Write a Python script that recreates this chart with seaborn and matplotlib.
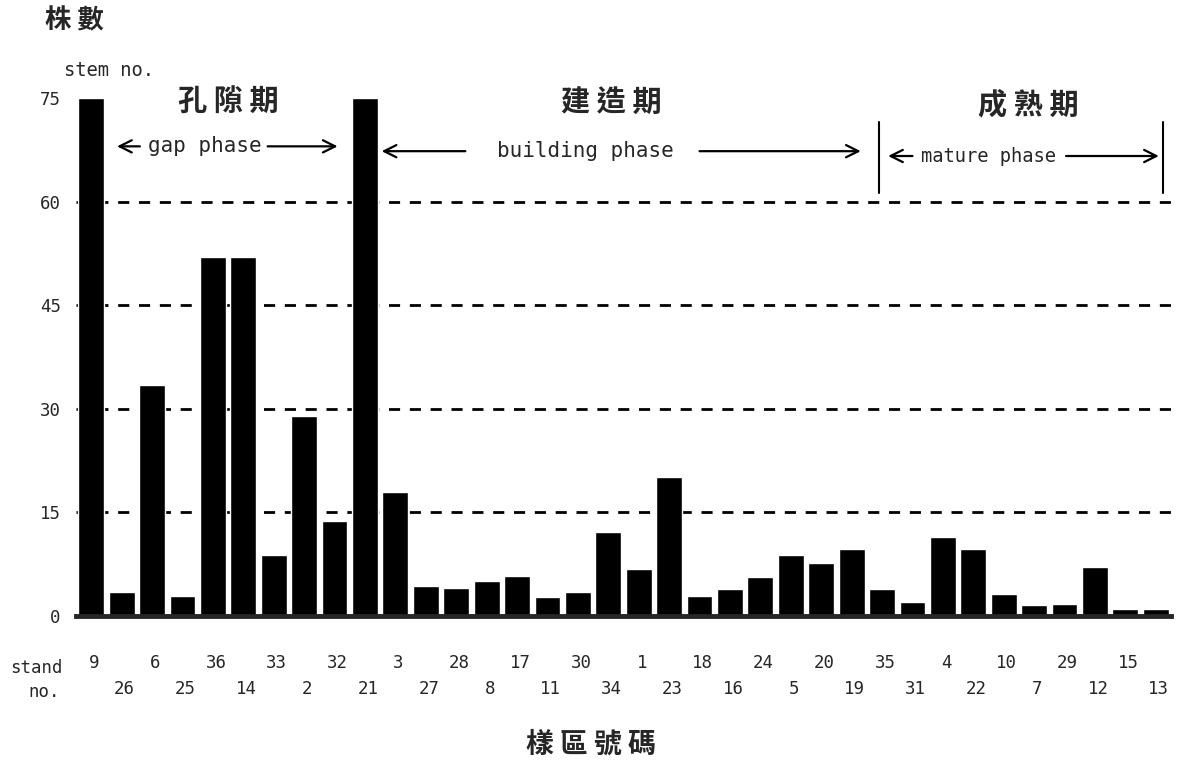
import numpy as np
import pandas as pd
import matplotlib
matplotlib.use("Agg")
import matplotlib.pyplot as plt
import matplotlib.transforms as mtransforms
import seaborn as sns

# stand numbers in plotted order and stem counts (bars at 75 run off the top)
stands = ["9", "26", "6", "25", "36", "14", "33", "2", "32", "21",
          "3", "27", "28", "8", "17", "11", "30", "34", "1", "23",
          "18", "16", "24", "5", "20", "19", "35", "31", "4", "22",
          "10", "7", "29", "12", "15", "13"]
stems = [75, 3.5, 33.5, 2.9, 52, 52, 8.9, 29, 13.7, 75,
         18, 4.4, 4.1, 5.0, 5.8, 2.7, 3.5, 12.2, 6.8, 20.1,
         2.9, 3.9, 5.7, 8.9, 7.7, 9.7, 3.9, 2.0, 11.4, 9.7,
         3.2, 1.6, 1.7, 7.1, 1.0, 1.0]
yticks = [0, 15, 30, 45, 60, 75]
grid_levels = [15, 30, 45, 60]

mono = "DejaVu Sans Mono"
cjk = ["Noto Sans CJK TC", "DejaVu Sans"]

sns.set_style("white")
plt.rcParams['font.family'] = [mono, "Noto Sans CJK TC"]

df = pd.DataFrame({"stand": stands, "stems": stems})

fig = plt.figure(figsize=(11.77, 7.7), dpi=100)
ax = fig.add_axes([76/1177, 154/770, 1095/1177, 518/770])

# dashed reference lines behind the bars
for lv in grid_levels:
    ax.axhline(lv, color="black", lw=2, ls=(0, (4, 3.5)), zorder=0)

sns.barplot(data=df, x="stand", y="stems", order=stands, color="black",
            width=0.85, saturation=1, ax=ax, zorder=2)

ax.set_ylim(0, 75)
ax.set_xlim(-0.5, len(stands) - 0.5)
ax.set_yticks(yticks)
ax.set_yticklabels([str(t) for t in yticks], fontsize=12.5, family=mono)
ax.tick_params(axis="y", length=7, width=1.5, pad=4)
ax.set_xticks([])
ax.set_xlabel("")
ax.set_ylabel("")
for s in ["top", "right", "left"]:
    ax.spines[s].set_visible(False)
ax.spines["bottom"].set_linewidth(3.5)
ax.spines["bottom"].set_zorder(3)

# stand numbers in two staggered rows
trans = mtransforms.blended_transform_factory(ax.transData, fig.transFigure)
for i, s in enumerate(stands):
    yy = 1 - 663/770 if i % 2 == 0 else 1 - 689/770
    ax.text(i + 0.1, yy, s, transform=trans, ha="center", va="center",
            fontsize=12.5, family=mono)
fig.text(10/1177, 1 - 668/770, "stand", ha="left", va="center", fontsize=12.5, family=mono)
fig.text(60/1177, 1 - 692/770, "no.", ha="right", va="center", fontsize=12.5, family=mono)

# axis titles
fig.text(45/1177, 1 - 21/770, "株 數", ha="left", va="center", fontsize=19,
         fontweight="bold", family=cjk)
fig.text(64/1177, 1 - 70/770, "stem no.", ha="left", va="center", fontsize=13.5, family=mono)
fig.text(591/1177, 1 - 745/770, "樣 區 號 碼", ha="center", va="center", fontsize=20,
         fontweight="bold", family=cjk)

# phase headings
ax.text(4.5, 74.5, "孔 隙 期", ha="center", va="center", fontsize=21,
        fontweight="bold", family=cjk, clip_on=False)
ax.text(17.1, 74.5, "建 造 期", ha="center", va="center", fontsize=21,
        fontweight="bold", family=cjk, clip_on=False)
ax.text(30.8, 74.0, "成 熟 期", ha="center", va="center", fontsize=21,
        fontweight="bold", family=cjk, clip_on=False)

def phase(label, xc, y, left_tip, left_start, right_start, right_tip, size=15):
    ax.text(xc, y, label, ha="center", va="center", fontsize=size, family=mono,
            bbox=dict(fc="white", ec="none", pad=0.5))
    ap = dict(arrowstyle="->", lw=1.6, color="black", mutation_scale=22,
              shrinkA=0, shrinkB=0)
    ax.annotate("", xy=(left_tip, y), xytext=(left_start, y), arrowprops=ap)
    ax.annotate("", xy=(right_tip, y), xytext=(right_start, y), arrowprops=ap)

phase("gap phase", 3.75, 68.0, 0.85, 1.6, 5.8, 8.1)
phase("building phase", 16.25, 67.3, 9.55, 12.3, 20.0, 25.3)
phase("mature phase", 29.5, 66.6, 26.2, 27.0, 32.05, 35.1, size=13.5)

# boundaries of the mature phase
for xv in [25.9, 35.25]:
    ax.plot([xv, xv], [61.3, 71.5], color="black", lw=1.5, clip_on=False)

fig.savefig("out.png", dpi=100)
